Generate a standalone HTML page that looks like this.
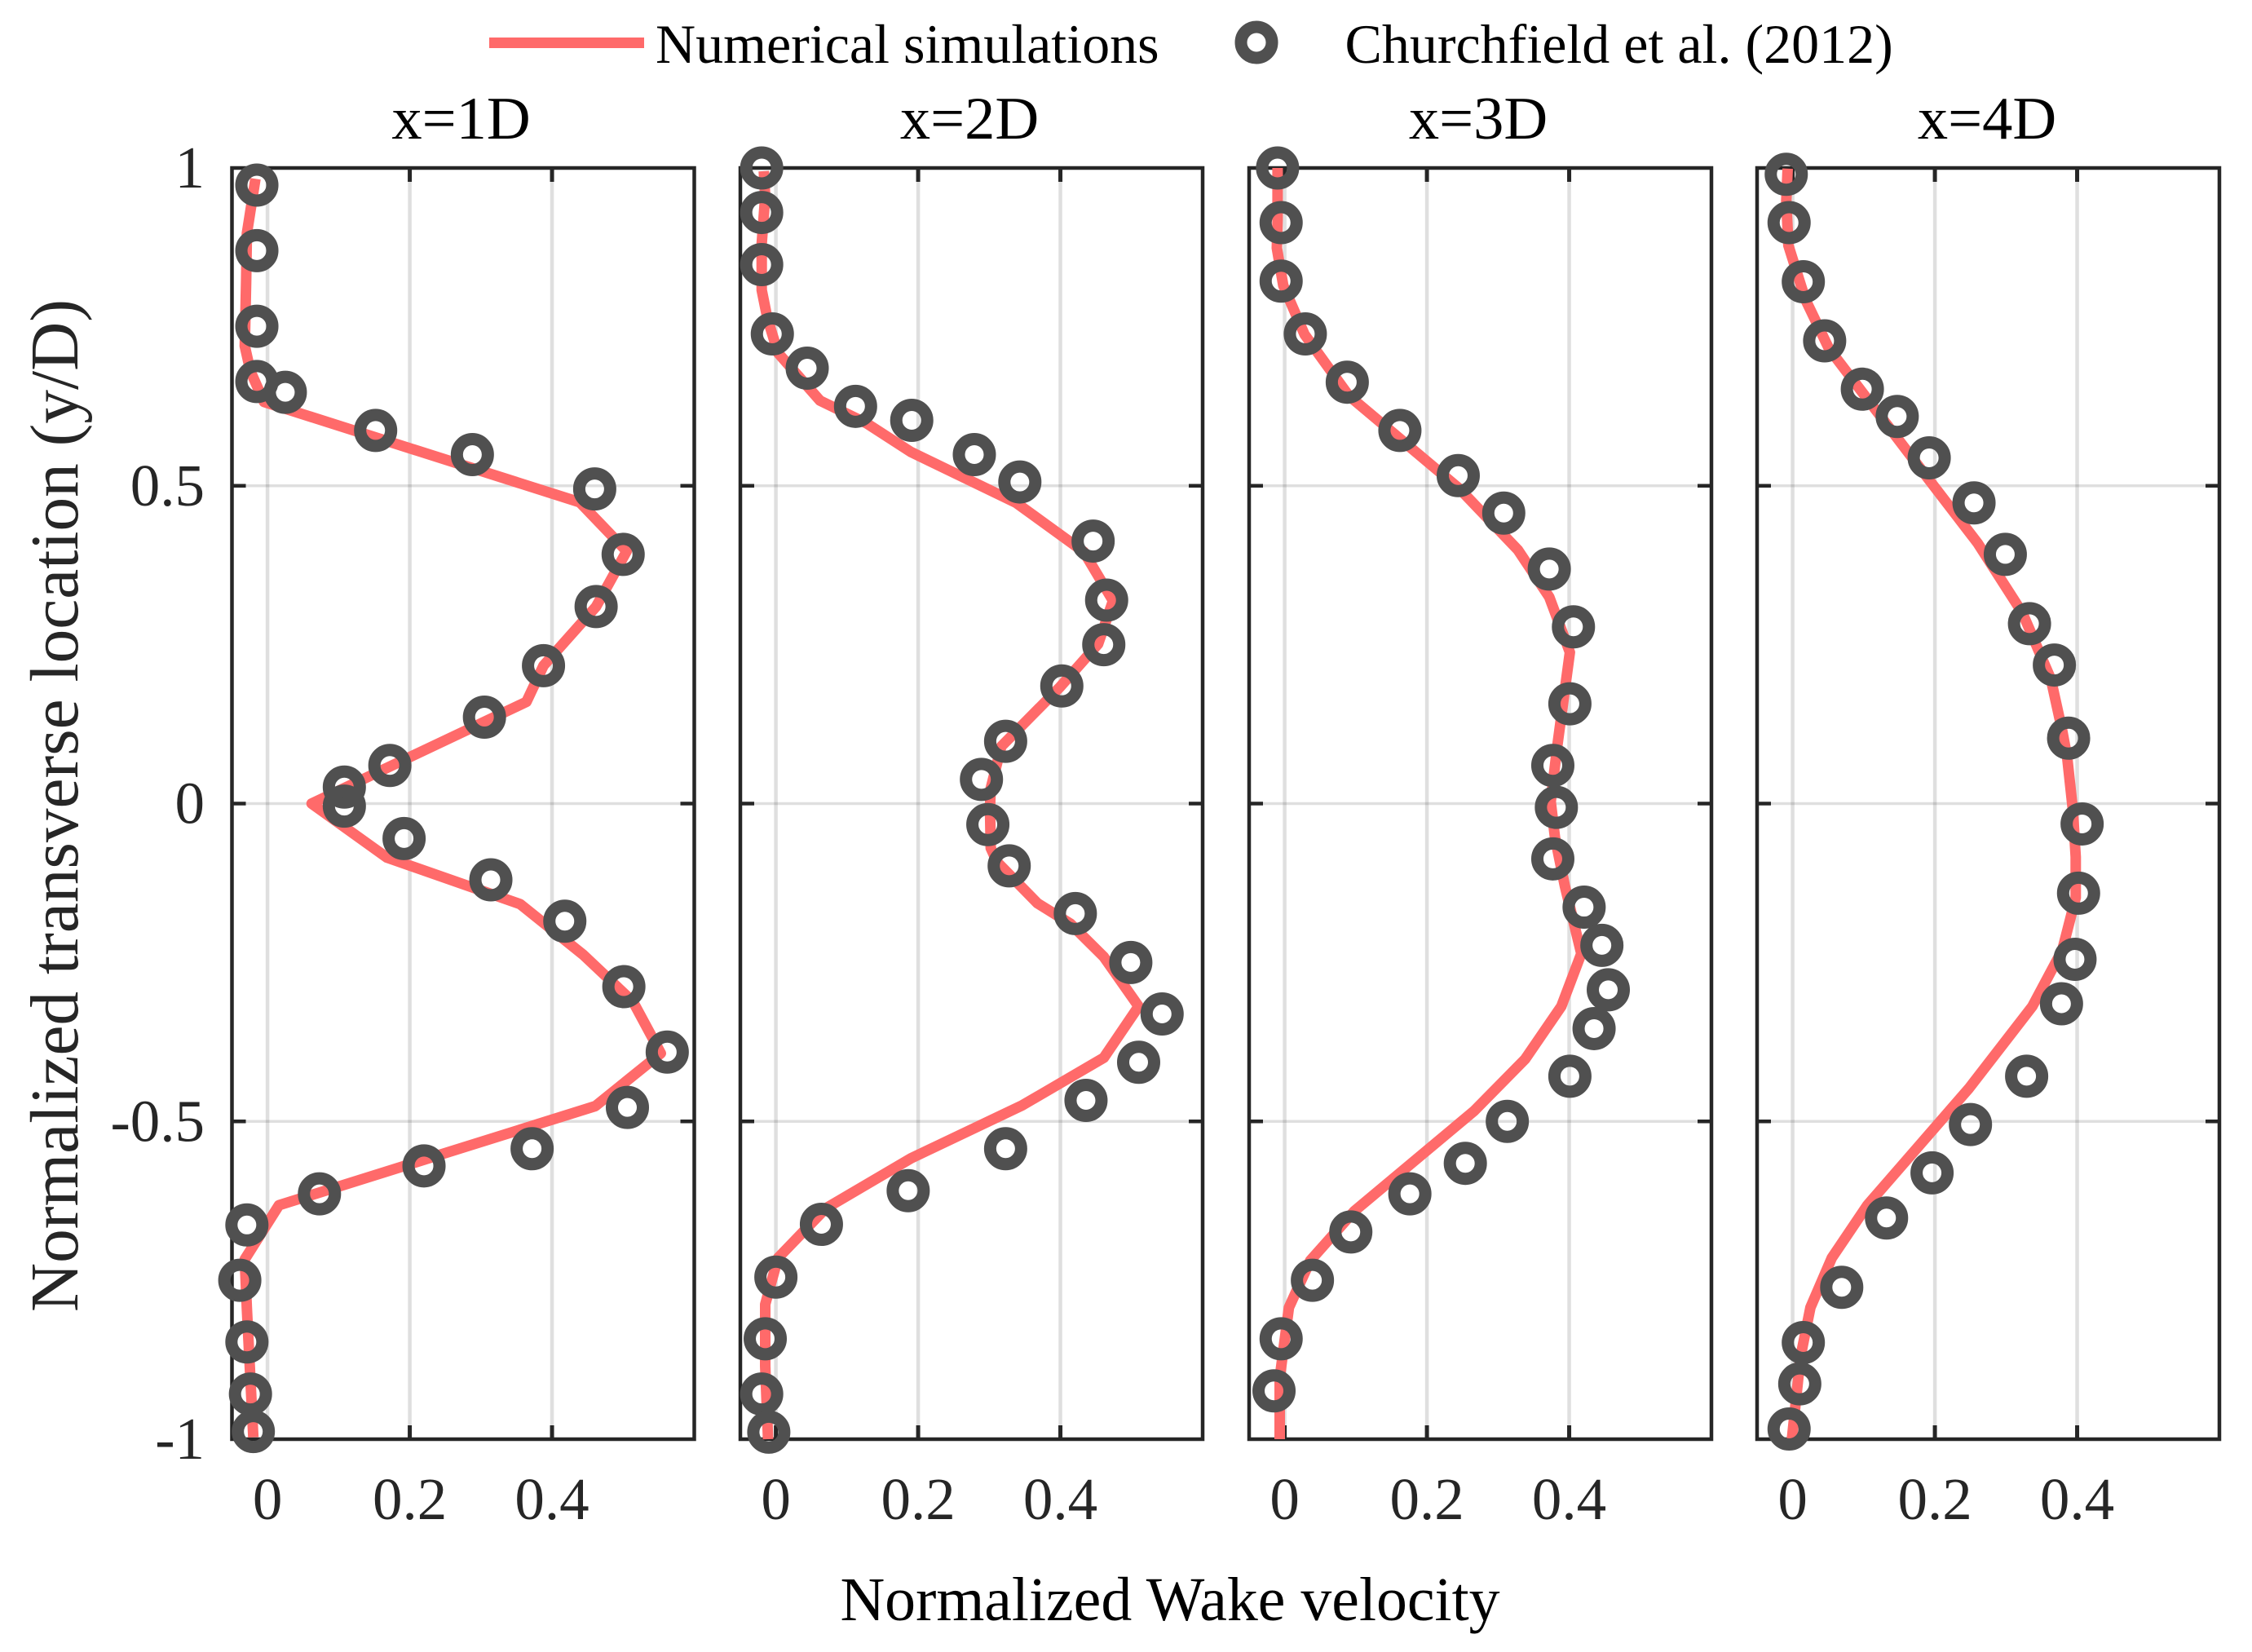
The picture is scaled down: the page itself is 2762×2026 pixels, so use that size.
<!DOCTYPE html>
<html lang="en">
<head>
<meta charset="utf-8">
<title>Normalized wake velocity profiles</title>
<style>
html,body{margin:0;padding:0;background:#fff;width:2762px;height:2026px;overflow:hidden}
svg{display:block;font-family:"Liberation Serif",serif}
</style>
</head>
<body>
<svg id="chart" xmlns="http://www.w3.org/2000/svg" width="2762" height="2026" viewBox="0 0 2762 2026">
  <rect x="0" y="0" width="2762" height="2026" fill="#fff"/>
  <g id="panels"></g>
  <g>
    <line x1="600" y1="52.5" x2="790" y2="52.5" stroke="#ff6a6a" stroke-width="13"/>
    <text x="804" y="77" font-size="68" fill="#000">Numerical simulations</text>
    <circle cx="1541" cy="52" r="19" fill="none" stroke="#505050" stroke-width="15"/>
    <text x="1649.5" y="77" font-size="68" fill="#000">Churchfield et al. (2012)</text>
  </g>
  <text x="565.5" y="170" font-size="74.5" text-anchor="middle" fill="#000">x=1D</text>
  <text x="1189" y="170" font-size="74.5" text-anchor="middle" fill="#000">x=2D</text>
  <text x="1813" y="170" font-size="74.5" text-anchor="middle" fill="#000">x=3D</text>
  <text x="2437" y="170" font-size="74.5" text-anchor="middle" fill="#000">x=4D</text>
  <text x="1435" y="1987" font-size="75.8" text-anchor="middle" fill="#000">Normalized Wake velocity</text>
  <text transform="translate(95 988) rotate(-90)" x="0" y="0" font-size="83.3" text-anchor="middle" fill="#262626">Normalized transverse location (y/D)</text>
</svg>
<script>
// ---- chart data ----
var xTickValues = [0, 0.2, 0.4];
var xTickLabels = ["0", "0.2", "0.4"];
var yTickValues = [1, 0.5, 0, -0.5, -1];
var yTickLabels = ["1", "0.5", "0", "-0.5", "-1"];
var panelNames = ["x1d", "x2d", "x3d", "x4d"];

// Numerical simulations: velocity (u) and transverse location (y)
var sim1U = [-0.017,-0.029,-0.030,-0.032,-0.024,-0.005,0.439,0.505,0.462,0.388,0.364,0.062,0.168,0.355,0.444,0.514,0.553,0.461,0.016,-0.032,-0.029,-0.020];
var sim1Y = [0.983,0.897,0.823,0.720,0.680,0.632,0.474,0.397,0.310,0.217,0.160,0.000,-0.085,-0.158,-0.238,-0.312,-0.393,-0.476,-0.632,-0.717,-0.795,-0.997];
var sim2U = [-0.017,-0.015,-0.020,-0.020,-0.012,0.003,0.062,0.128,0.190,0.338,0.433,0.474,0.453,0.399,0.317,0.302,0.301,0.302,0.311,0.368,0.414,0.461,0.510,0.461,0.346,0.190,0.070,0.003,-0.015,-0.015,-0.011];
var sim2Y = [0.995,0.955,0.881,0.808,0.764,0.709,0.634,0.598,0.553,0.473,0.396,0.319,0.251,0.183,0.090,0.024,-0.006,-0.070,-0.092,-0.157,-0.189,-0.241,-0.319,-0.400,-0.475,-0.558,-0.637,-0.715,-0.788,-0.885,-1.000];
var sim3U = [-0.010,-0.010,-0.011,-0.002,0.028,0.090,0.246,0.328,0.372,0.401,0.383,0.374,0.380,0.394,0.417,0.389,0.338,0.266,0.098,0.036,0.006,-0.007,-0.007];
var sim3Y = [1.000,0.918,0.874,0.815,0.738,0.642,0.495,0.399,0.325,0.238,0.088,0.003,-0.053,-0.130,-0.236,-0.319,-0.402,-0.484,-0.641,-0.719,-0.793,-0.904,-1.000];
var sim4U = [-0.007,-0.009,-0.006,0.018,0.051,0.192,0.260,0.323,0.363,0.379,0.386,0.394,0.398,0.398,0.379,0.337,0.248,0.105,0.055,0.025,0.011,-0.001];
var sim4Y = [0.999,0.948,0.878,0.793,0.716,0.509,0.410,0.300,0.196,0.115,0.073,-0.010,-0.084,-0.148,-0.231,-0.319,-0.448,-0.632,-0.715,-0.793,-0.871,-1.000];

// Churchfield et al. (2012): velocity (u) and transverse location (y)
var exp1U = [-0.015,-0.015,-0.015,-0.015,0.025,0.152,0.288,0.460,0.500,0.462,0.388,0.305,0.172,0.108,0.108,0.192,0.314,0.418,0.501,0.562,0.506,0.372,0.220,0.073,-0.029,-0.039,-0.029,-0.024,-0.020];
var exp1Y = [0.973,0.870,0.751,0.664,0.647,0.587,0.549,0.495,0.392,0.310,0.217,0.136,0.060,0.026,-0.004,-0.055,-0.120,-0.185,-0.288,-0.391,-0.478,-0.543,-0.570,-0.614,-0.663,-0.750,-0.847,-0.929,-0.988];
var exp2U = [-0.020,-0.020,-0.020,-0.005,0.044,0.112,0.191,0.279,0.343,0.446,0.465,0.461,0.402,0.323,0.289,0.298,0.328,0.421,0.499,0.543,0.510,0.436,0.323,0.186,0.064,0.000,-0.015,-0.020,-0.010];
var exp2Y = [1.000,0.930,0.848,0.739,0.685,0.625,0.603,0.549,0.506,0.413,0.320,0.250,0.185,0.098,0.038,-0.033,-0.098,-0.173,-0.250,-0.331,-0.407,-0.467,-0.543,-0.609,-0.662,-0.745,-0.842,-0.929,-0.989];
var exp3U = [-0.010,-0.005,-0.005,0.029,0.088,0.162,0.244,0.308,0.372,0.406,0.401,0.377,0.382,0.377,0.421,0.446,0.455,0.435,0.401,0.313,0.254,0.176,0.093,0.039,-0.005,-0.015];
var exp3Y = [1.000,0.914,0.822,0.739,0.663,0.587,0.516,0.457,0.369,0.278,0.157,0.060,-0.006,-0.087,-0.163,-0.223,-0.293,-0.354,-0.429,-0.500,-0.566,-0.614,-0.674,-0.750,-0.842,-0.924];
var exp4U = [-0.009,-0.005,0.015,0.045,0.098,0.147,0.192,0.255,0.299,0.333,0.368,0.388,0.407,0.402,0.397,0.378,0.329,0.250,0.196,0.132,0.069,0.015,0.010,-0.005];
var exp4Y = [0.990,0.914,0.821,0.728,0.652,0.609,0.544,0.473,0.392,0.283,0.218,0.103,-0.032,-0.141,-0.245,-0.315,-0.429,-0.505,-0.581,-0.652,-0.761,-0.848,-0.913,-0.984];

var simSeriesU = [sim1U, sim2U, sim3U, sim4U];
var simSeriesY = [sim1Y, sim2Y, sim3Y, sim4Y];
var expSeriesU = [exp1U, exp2U, exp3U, exp4U];
var expSeriesY = [exp1Y, exp2Y, exp3Y, exp4Y];

// ---- layout ----
var NS = "http://www.w3.org/2000/svg";
var panelLefts = [284.5, 908, 1532, 2155];
var panelWidth = 567;
var plotTop = 206;
var plotBottom = 1765;
var xMin = -0.05, xMax = 0.6, yMin = -1, yMax = 1;
var FRAME = "#262626";
var GRID = "rgba(38,38,38,0.15)";

function make(tag, attrs, parent) {
  var el = document.createElementNS(NS, tag);
  for (var k in attrs) { el.setAttribute(k, attrs[k]); }
  parent.appendChild(el);
  return el;
}
function yScale(v) {
  return plotBottom - (v - yMin) / (yMax - yMin) * (plotBottom - plotTop);
}
function xScaleFor(left) {
  return function (v) { return left + (v - xMin) / (xMax - xMin) * panelWidth; };
}

function drawPanel(i) {
  var root = document.getElementById("panels");
  var left = panelLefts[i];
  var right = left + panelWidth;
  var xs = xScaleFor(left);
  var name = panelNames[i];

  var g = make("g", {}, root);
  
  

  // grid
  xTickValues.forEach(function (v) {
    var gl = make("line", {x1: xs(v), x2: xs(v), y1: plotTop, y2: plotBottom, stroke: GRID, "stroke-width": 4.5}, g);
    
    
  });
  yTickValues.forEach(function (v) {
    if (v === yMin || v === yMax) { return; }
    var gl = make("line", {x1: left, x2: right, y1: yScale(v), y2: yScale(v), stroke: GRID, "stroke-width": 3.5}, g);
    
    
  });

  // ticks
  xTickValues.forEach(function (v) {
    var t1 = make("line", {x1: xs(v), x2: xs(v), y1: plotBottom, y2: plotBottom - 17, stroke: FRAME, "stroke-width": 5}, g);
    
    
    var t2 = make("line", {x1: xs(v), x2: xs(v), y1: plotTop, y2: plotTop + 17, stroke: FRAME, "stroke-width": 5}, g);
    
    
  });
  yTickValues.forEach(function (v) {
    if (v === yMin || v === yMax) { return; }
    var t1 = make("line", {x1: left, x2: left + 17, y1: yScale(v), y2: yScale(v), stroke: FRAME, "stroke-width": 4.5}, g);
    
    
    var t2 = make("line", {x1: right, x2: right - 17, y1: yScale(v), y2: yScale(v), stroke: FRAME, "stroke-width": 4.5}, g);
    
    
  });

  // frame
  var frame = make("rect", {x: left, y: plotTop, width: panelWidth, height: plotBottom - plotTop, fill: "none", stroke: FRAME, "stroke-width": 4.5}, g);
  
  

  // x tick labels
  xTickValues.forEach(function (v, k) {
    var t = make("text", {x: xs(v), y: 1863, "font-size": 73, "text-anchor": "middle", fill: FRAME}, g);
    
    
    t.textContent = xTickLabels[k];
  });

  // y tick labels (first panel only)
  if (i === 0) {
    yTickValues.forEach(function (v, k) {
      var t = make("text", {x: 251, y: yScale(v) + 24, "font-size": 73, "text-anchor": "end", fill: FRAME}, g);
      
      
      t.textContent = yTickLabels[k];
    });
  }

  // simulation line
  var pts = simSeriesU[i].map(function (u, k) {
    return xs(u).toFixed(1) + "," + yScale(simSeriesY[i][k]).toFixed(1);
  }).join(" ");
  var line = make("polyline", {points: pts, fill: "none", stroke: "#ff6a6a", "stroke-width": 13, "stroke-linejoin": "round"}, g);
  
  

  // experimental markers
  expSeriesU[i].forEach(function (u, k) {
    var c = make("circle", {cx: xs(u), cy: yScale(expSeriesY[i][k]), r: 19, fill: "none", stroke: "#505050", "stroke-width": 15}, g);
    
    
  });
}

for (var p = 0; p < panelNames.length; p++) { drawPanel(p); }
</script>
</body>
</html>
